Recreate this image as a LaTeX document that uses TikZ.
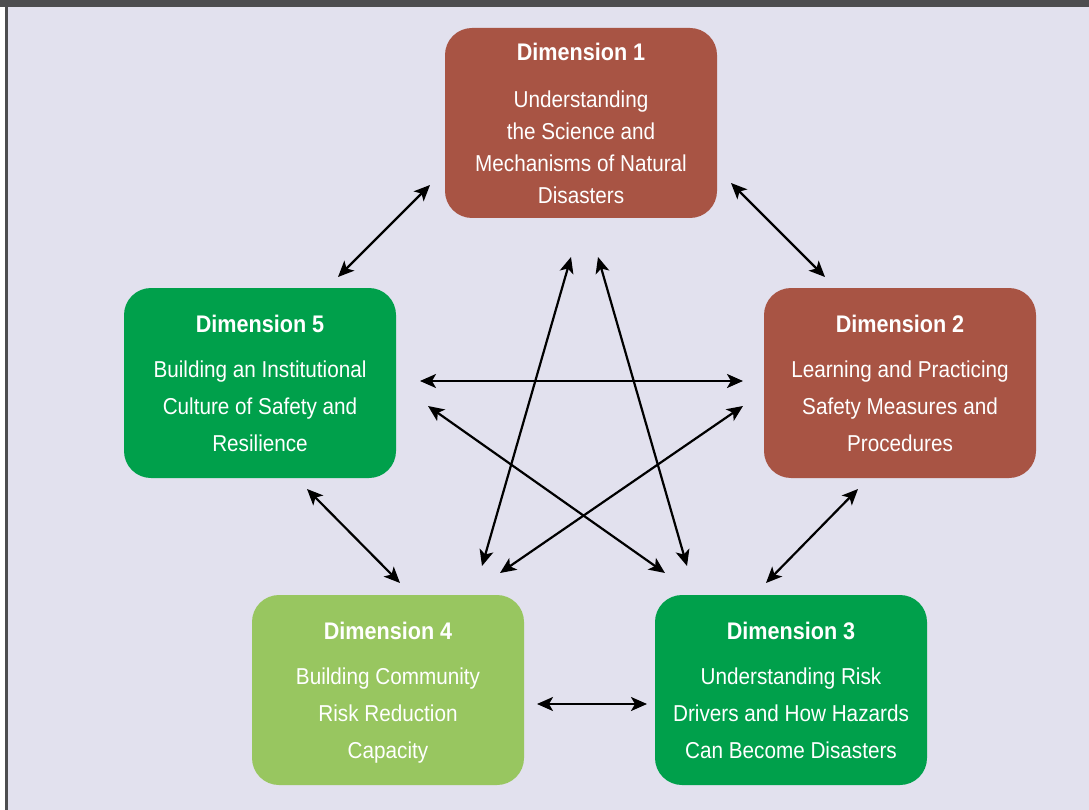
\documentclass[tikz,border=0pt]{standalone}
\usepackage{fontspec}
\setmainfont{Liberation Sans}[FakeStretch=0.9]
\usetikzlibrary{arrows.meta}

\definecolor{dimred}{HTML}{A85444}
\definecolor{dimgreen}{HTML}{00A04B}
\definecolor{dimlight}{HTML}{98C660}
\definecolor{panel}{HTML}{E2E1EE}
\definecolor{framegray}{HTML}{4D4D4F}

\tikzset{
  dimbox/.style={fill=#1, rounded corners=27pt, minimum width=272pt, minimum height=190pt,
    text=white, align=center, inner sep=0pt},
  bodyA/.style={font=\fontsize{23}{32}\selectfont},
  bodyB/.style={font=\fontsize{23}{37}\selectfont},
  link/.style={{Stealth[length=16pt,width=14pt,inset=4pt]}-{Stealth[length=16pt,width=14pt,inset=4pt]},
    line width=2.2pt, black},
}
\newcommand{\dimtitle}[1]{{\fontsize{24}{28}\selectfont\bfseries #1}}

\begin{document}
\begin{tikzpicture}[x=1pt, y=-1pt]
  % Cadre et fond
  \useasboundingbox (0,0) rectangle (1089,810);
  \fill[white] (0,0) rectangle (1089,810);
  \fill[panel] (8,7) rectangle (1089,810);
  \fill[framegray] (0,0) rectangle (1089,7);
  \fill[framegray] (5,7) rectangle (8,810);

  % Dimensions
  \node[dimbox=dimred, bodyA] (dim1) at (581,123)
    {\dimtitle{Dimension 1}\\[15pt] Understanding\\ the Science and\\ Mechanisms of Natural\\ Disasters};
  \node[dimbox=dimred, bodyB] (dim2) at (900,383)
    {\dimtitle{Dimension 2}\\[8pt] Learning and Practicing\\ Safety Measures and\\ Procedures};
  \node[dimbox=dimgreen, bodyB] (dim3) at (791,690)
    {\dimtitle{Dimension 3}\\[8pt] Understanding Risk\\ Drivers and How Hazards\\ Can Become Disasters};
  \node[dimbox=dimlight, bodyB] (dim4) at (388,690)
    {\dimtitle{Dimension 4}\\[8pt] Building Community\\ Risk Reduction\\ \raisebox{0pt}[\height][0pt]{Capacity}};
  \node[dimbox=dimgreen, bodyB] (dim5) at (260,383)
    {\dimtitle{Dimension 5}\\[8pt] Building an Institutional\\ Culture of Safety and\\ Resilience};

  % Extrémités des flèches
  \coordinate (p15a) at (430,185); \coordinate (p15b) at (338,277);
  \coordinate (p12a) at (731,183); \coordinate (p12b) at (825,277);
  \coordinate (p14a) at (571,257); \coordinate (p14b) at (482,566);
  \coordinate (p13a) at (598,257); \coordinate (p13b) at (687,566);
  \coordinate (p52a) at (420,381); \coordinate (p52b) at (743,381);
  \coordinate (p53a) at (428,406); \coordinate (p53b) at (665,573);
  \coordinate (p24a) at (743,406); \coordinate (p24b) at (500,573);
  \coordinate (p54a) at (307,489); \coordinate (p54b) at (400,583);
  \coordinate (p23a) at (858,489); \coordinate (p23b) at (766,583);
  \coordinate (p43a) at (537,704); \coordinate (p43b) at (647,704);

  % Liens
  \draw[link] (p15a) -- (p15b);
  \draw[link] (p12a) -- (p12b);
  \draw[link] (p14a) -- (p14b);
  \draw[link] (p13a) -- (p13b);
  \draw[link] (p52a) -- (p52b);
  \draw[link] (p53a) -- (p53b);
  \draw[link] (p24a) -- (p24b);
  \draw[link] (p54a) -- (p54b);
  \draw[link] (p23a) -- (p23b);
  \draw[link] (p43a) -- (p43b);
\end{tikzpicture}
\end{document}
